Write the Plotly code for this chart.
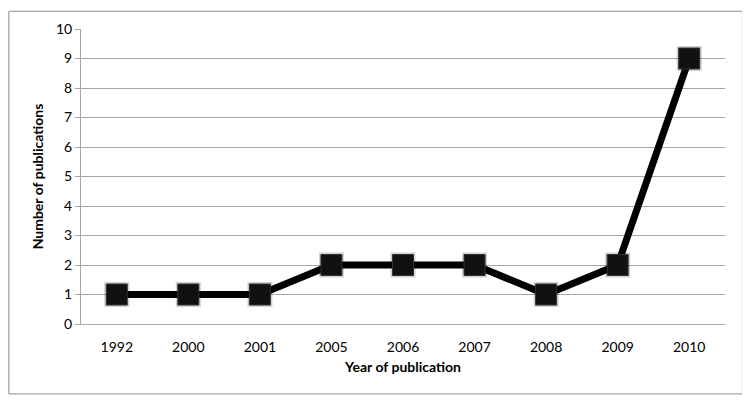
import plotly.graph_objects as go

years = ["1992", "2000", "2001", "2005", "2006", "2007", "2008", "2009", "2010"]
publications = [1, 1, 1, 2, 2, 2, 1, 2, 9]
y_ticks = list(range(0, 11))

_FONT = "Lato, 'Open Sans', sans-serif"
_GRID = "#a6a6a6"

fig = go.Figure()

# soft shadow behind the markers
fig.add_trace(go.Scatter(
    x=years,
    y=publications,
    mode="markers",
    marker=dict(symbol="square", size=25, color="rgba(0,0,0,0.18)", line=dict(width=0)),
    hoverinfo="skip",
    showlegend=False,
))

fig.add_trace(go.Scatter(
    x=years,
    y=publications,
    mode="lines+markers",
    line=dict(color="black", width=7),
    marker=dict(symbol="square", size=21, color="#111111", line=dict(color="#333333", width=1)),
    showlegend=False,
))

fig.update_layout(
    width=742,
    height=395,
    margin=dict(l=73, r=25, t=17, b=79),
    paper_bgcolor="white",
    plot_bgcolor="white",
    font=dict(family=_FONT, size=14, color="black"),
    xaxis=dict(
        type="category",
        range=[-0.5, 8.5],
        showgrid=False,
        showline=True,
        linecolor=_GRID,
        linewidth=1,
        ticks="",
        ticklabelstandoff=10,
        tickfont=dict(size=14),
        title=dict(text="<b>Year of publication</b>", font=dict(size=14), standoff=8),
    ),
    yaxis=dict(
        range=[0, 10],
        tickvals=y_ticks,
        showgrid=True,
        gridcolor=_GRID,
        gridwidth=1,
        zeroline=False,
        showline=True,
        linecolor=_GRID,
        linewidth=1,
        ticks="outside",
        ticklen=5,
        tickcolor=_GRID,
        tickfont=dict(size=14),
        title=dict(text="<b>Number of publications</b>", font=dict(size=14), standoff=9),
    ),
    shapes=[dict(
        type="rect",
        xref="paper", yref="paper",
        x0=-0.112, x1=1.027, y0=-0.237, y1=1.060,
        line=dict(color="#8c8c8c", width=1),
        fillcolor="rgba(0,0,0,0)",
        layer="below",
    )],
)

fig.write_html("out.html")
